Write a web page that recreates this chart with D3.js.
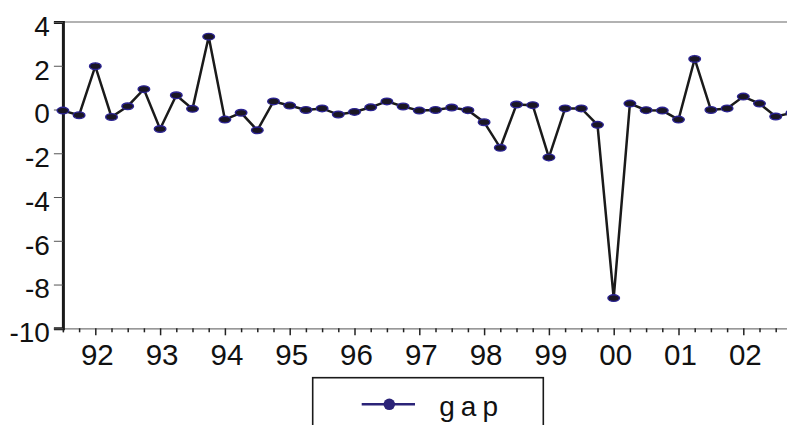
<!DOCTYPE html>
<html>
<head>
<meta charset="utf-8">
<script src="https://cdn.jsdelivr.net/npm/d3@7"></script>
<style>
  html, body { margin: 0; padding: 0; background: #fff; overflow: hidden; }
  text { font-family: "Liberation Sans", Arial, sans-serif; fill: #111; }
</style>
</head>
<body>
<svg id="viz"></svg>
<script>
// Quarterly output gap, 1991Q3 - 2002Q4
const startYear = 1991, startQuarter = 3;
const gap = [
  -0.05, -0.26, 1.98, -0.34, 0.15, 0.93, -0.89, 0.65, 0.03, 3.33,
  -0.46, -0.15, -0.95, 0.37, 0.18, -0.02, 0.05, -0.23, -0.11, 0.10,
  0.37, 0.14, -0.05, -0.02, 0.09, -0.03, -0.58, -1.75, 0.23, 0.20,
  -2.19, 0.05, 0.05, -0.70, -8.62, 0.27, -0.03, -0.05, -0.46, 2.31,
  -0.02, 0.05, 0.59, 0.27, -0.32, -0.15
];
const yTicks = [-10, -8, -6, -4, -2, 0, 2, 4];
const yearTicks = [1992, 1993, 1994, 1995, 1996, 1997, 1998, 1999, 2000, 2001, 2002];
const seriesName = "gap";

const width = 787, height = 425;

const svg = d3.select("#viz")
  .attr("width", width)
  .attr("height", height);

// each observation gets a fractional-year time stamp
const points = gap.map(function(v, i) {
  const q = startQuarter - 1 + i;
  return { t: startYear + q / 4, v: v };
});

const x = d3.scaleLinear()
  .domain([1991.5, 2002.75])
  .range([62.9, 62.9 + 11.25 * 64.8]);

const y = d3.scaleLinear()
  .domain([-10, 4])
  .range([328.3, 22]);

// top frame line
svg.append("line")
  .attr("x1", x(1991.5)).attr("x2", width)
  .attr("y1", y(4)).attr("y2", y(4))
  .attr("stroke", "#666").attr("stroke-width", 1.2);

// quarterly minor ticks along the bottom
const quarterTicks = points.map(d => d.t).filter(t => t % 1 !== 0);
svg.append("g")
  .attr("transform", "translate(0," + y(-10) + ")")
  .call(d3.axisBottom(x).tickValues(quarterTicks).tickSize(4).tickFormat(""))
  .call(g => g.select(".domain").attr("stroke", "#777").attr("stroke-width", 1.2))
  .call(g => g.selectAll(".tick line").attr("stroke", "#222").attr("stroke-width", 1.5));

// yearly ticks with labels
svg.append("g")
  .attr("transform", "translate(0," + y(-10) + ")")
  .call(d3.axisBottom(x).tickValues(yearTicks).tickSize(7).tickPadding(9)
    .tickFormat(d => String(d).slice(2)))
  .call(g => g.select(".domain").remove())
  .call(g => g.selectAll(".tick line").attr("stroke", "#222").attr("stroke-width", 1.5))
  .call(g => g.selectAll(".tick text")
    .attr("font-size", "29.5px")
    .attr("dx", "1.5")
    .attr("fill", "#111")
    .attr("font-family", "Liberation Sans, Arial, sans-serif"));

// left axis (plain hyphen for negatives, as in the original)
svg.append("g")
  .attr("transform", "translate(" + x(1991.5) + ",0)")
  .call(d3.axisLeft(y).tickValues(yTicks).tickSize(9).tickPadding(4)
    .tickFormat(d => String(d)))
  .call(g => g.select(".domain").attr("stroke", "#1a1a1a").attr("stroke-width", 3))
  .call(g => g.selectAll(".tick line").attr("stroke", "#555").attr("stroke-width", 1))
  .call(g => g.selectAll(".tick text")
    .attr("font-size", "28px")
    .attr("dy", "0.48em")
    .attr("fill", "#111")
    .attr("font-family", "Liberation Sans, Arial, sans-serif"));

// the series line
const line = d3.line()
  .x(d => x(d.t))
  .y(d => y(d.v));

svg.append("path")
  .datum(points)
  .attr("d", line)
  .attr("fill", "none")
  .attr("stroke", "#1a1a1a")
  .attr("stroke-width", 2.5)
  .attr("stroke-linejoin", "miter");

svg.selectAll("ellipse.mark")
  .data(points)
  .enter().append("ellipse")
  .attr("class", "mark")
  .attr("cx", d => x(d.t))
  .attr("cy", d => y(d.v))
  .attr("rx", 5.8)
  .attr("ry", 3.3)
  .attr("fill", "#1a1624")
  .attr("stroke", "#2b2392")
  .attr("stroke-width", 1.4);

// legend
const legend = svg.append("g");
legend.append("rect")
  .attr("x", 312.7).attr("y", 377.7)
  .attr("width", 230.6).attr("height", 60)
  .attr("fill", "#fff")
  .attr("stroke", "#1a1a1a")
  .attr("stroke-width", 1.6);
legend.append("line")
  .attr("x1", 361.7).attr("x2", 415)
  .attr("y1", 404.3).attr("y2", 404.3)
  .attr("stroke", "#2b2378").attr("stroke-width", 2.4);
legend.append("circle")
  .attr("cx", 389.3).attr("cy", 404.3).attr("r", 5.8)
  .attr("fill", "#2b2378");
legend.append("text")
  .attr("x", 439.3).attr("y", 416)
  .attr("font-size", "28px")
  .attr("letter-spacing", "6px")
  .text(seriesName);
</script>
</body>
</html>
